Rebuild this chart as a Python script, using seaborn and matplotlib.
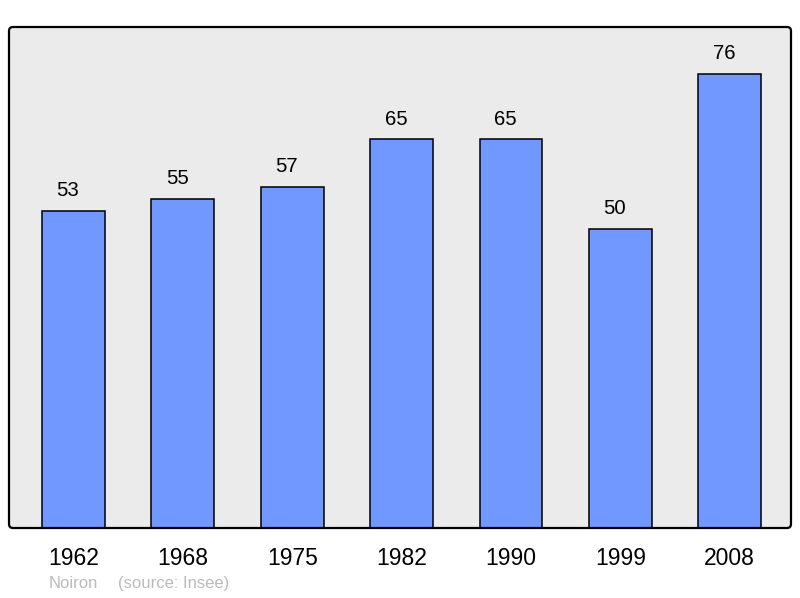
import matplotlib
matplotlib.use("Agg")
import matplotlib.pyplot as plt
import seaborn as sns
import pandas as pd
from matplotlib.patches import FancyBboxPatch
from matplotlib.transforms import IdentityTransform

years = ["1962", "1968", "1975", "1982", "1990", "1999", "2008"]
population = [53, 55, 57, 65, 65, 50, 76]
commune = "Noiron"
source = "(source: Insee)"

sns.set_theme(style="white")
plt.rcParams['font.family'] = ['Liberation Sans', 'DejaVu Sans']

W, H, DPI = 800, 598, 100
fig = plt.figure(figsize=(W / DPI, H / DPI), dpi=DPI)
ax_left, ax_right, ax_top, ax_bottom = 9, 791, 27, 528
ax = fig.add_axes([ax_left / W, (H - ax_bottom) / H, (ax_right - ax_left) / W, (ax_bottom - ax_top) / H])
ax.set_facecolor("#ebebeb")

df = pd.DataFrame({"year": years, "pop": population})
sns.barplot(data=df, x="year", y="pop", color="#7098ff", saturation=1,
            edgecolor="black", linewidth=1.1, width=0.575, ax=ax)

for i, v in enumerate(population):
    ax.annotate(str(v), xy=(i, v), xytext=(-4, 7.8), textcoords="offset points",
                ha="center", va="bottom", fontsize=14.7, color="black")

ax.set_xlim(-0.589, 6.56)
ax.set_ylim(0, 83.8)
ax.set_xlabel("")
ax.set_ylabel("")
ax.set_yticks([])
ax.tick_params(axis="x", length=0, pad=14, labelsize=16.5, colors="black")
for s in ax.spines.values():
    s.set_visible(False)

# rounded frame
frame = FancyBboxPatch((ax_left, H - ax_bottom), ax_right - ax_left, ax_bottom - ax_top,
                       boxstyle="round,pad=0,rounding_size=4", transform=IdentityTransform(),
                       facecolor="none", edgecolor="black", linewidth=1.6, zorder=10)
fig.patches.append(frame)

fig.text(49 / W, 1 - 583.5 / H, commune, fontsize=12, color="#bbbbbb", va="center", ha="left")
fig.text(118 / W, 1 - 583.5 / H, source, fontsize=12, color="#bbbbbb", va="center", ha="left")

fig.savefig("out.png", dpi=DPI)
